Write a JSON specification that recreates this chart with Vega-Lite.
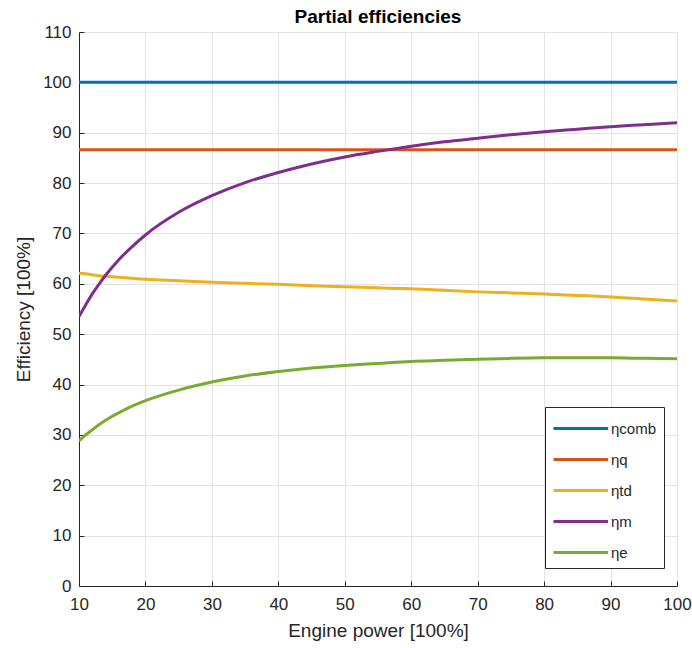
{
  "$schema": "https://vega.github.io/schema/vega-lite/v6.json",
  "width": 598,
  "height": 554,
  "autosize": {"type": "none"},
  "padding": {"left": 79, "top": 32, "right": 15, "bottom": 62},
  "background": "white",
  "title": {
    "text": "Partial efficiencies",
    "font": "Liberation Sans",
    "fontSize": 19,
    "fontWeight": "bold",
    "color": "#000000",
    "anchor": "middle",
    "offset": -4
  },
  "config": {
    "view": {"stroke": null},
    "font": "Liberation Sans"
  },
  "data": {
    "values": [
      {"power": 10, "series": "ηcomb", "eff": 100},
      {"power": 100, "series": "ηcomb", "eff": 100},

      {"power": 10, "series": "ηq", "eff": 86.6},
      {"power": 100, "series": "ηq", "eff": 86.6},

      {"power": 10, "series": "ηtd", "eff": 62.1},
      {"power": 11, "series": "ηtd", "eff": 62.0},
      {"power": 12, "series": "ηtd", "eff": 61.8},
      {"power": 13, "series": "ηtd", "eff": 61.6},
      {"power": 14, "series": "ηtd", "eff": 61.5},
      {"power": 15, "series": "ηtd", "eff": 61.4},
      {"power": 16, "series": "ηtd", "eff": 61.3},
      {"power": 18, "series": "ηtd", "eff": 61.1},
      {"power": 20, "series": "ηtd", "eff": 60.9},
      {"power": 25, "series": "ηtd", "eff": 60.6},
      {"power": 30, "series": "ηtd", "eff": 60.3},
      {"power": 35, "series": "ηtd", "eff": 60.1},
      {"power": 40, "series": "ηtd", "eff": 59.9},
      {"power": 45, "series": "ηtd", "eff": 59.6},
      {"power": 50, "series": "ηtd", "eff": 59.4},
      {"power": 55, "series": "ηtd", "eff": 59.2},
      {"power": 60, "series": "ηtd", "eff": 59.0},
      {"power": 65, "series": "ηtd", "eff": 58.7},
      {"power": 70, "series": "ηtd", "eff": 58.4},
      {"power": 75, "series": "ηtd", "eff": 58.2},
      {"power": 80, "series": "ηtd", "eff": 58.0},
      {"power": 85, "series": "ηtd", "eff": 57.7},
      {"power": 90, "series": "ηtd", "eff": 57.4},
      {"power": 95, "series": "ηtd", "eff": 57.0},
      {"power": 100, "series": "ηtd", "eff": 56.6},

      {"power": 10, "series": "ηm", "eff": 53.5},
      {"power": 11, "series": "ηm", "eff": 55.8},
      {"power": 12, "series": "ηm", "eff": 58.0},
      {"power": 13, "series": "ηm", "eff": 59.9},
      {"power": 14, "series": "ηm", "eff": 61.7},
      {"power": 15, "series": "ηm", "eff": 63.3},
      {"power": 16, "series": "ηm", "eff": 64.8},
      {"power": 18, "series": "ηm", "eff": 67.4},
      {"power": 20, "series": "ηm", "eff": 69.7},
      {"power": 25, "series": "ηm", "eff": 74.2},
      {"power": 30, "series": "ηm", "eff": 77.5},
      {"power": 35, "series": "ηm", "eff": 80.1},
      {"power": 40, "series": "ηm", "eff": 82.1},
      {"power": 45, "series": "ηm", "eff": 83.8},
      {"power": 50, "series": "ηm", "eff": 85.2},
      {"power": 55, "series": "ηm", "eff": 86.3},
      {"power": 60, "series": "ηm", "eff": 87.3},
      {"power": 65, "series": "ηm", "eff": 88.2},
      {"power": 70, "series": "ηm", "eff": 88.9},
      {"power": 75, "series": "ηm", "eff": 89.6},
      {"power": 80, "series": "ηm", "eff": 90.2},
      {"power": 85, "series": "ηm", "eff": 90.7},
      {"power": 90, "series": "ηm", "eff": 91.2},
      {"power": 95, "series": "ηm", "eff": 91.6},
      {"power": 100, "series": "ηm", "eff": 92.0},

      {"power": 10, "series": "ηe", "eff": 28.8},
      {"power": 11, "series": "ηe", "eff": 30.0},
      {"power": 12, "series": "ηe", "eff": 31.0},
      {"power": 13, "series": "ηe", "eff": 32.0},
      {"power": 14, "series": "ηe", "eff": 32.9},
      {"power": 15, "series": "ηe", "eff": 33.7},
      {"power": 16, "series": "ηe", "eff": 34.4},
      {"power": 18, "series": "ηe", "eff": 35.7},
      {"power": 20, "series": "ηe", "eff": 36.8},
      {"power": 25, "series": "ηe", "eff": 38.9},
      {"power": 30, "series": "ηe", "eff": 40.5},
      {"power": 35, "series": "ηe", "eff": 41.7},
      {"power": 40, "series": "ηe", "eff": 42.6},
      {"power": 45, "series": "ηe", "eff": 43.3},
      {"power": 50, "series": "ηe", "eff": 43.8},
      {"power": 55, "series": "ηe", "eff": 44.2},
      {"power": 60, "series": "ηe", "eff": 44.6},
      {"power": 65, "series": "ηe", "eff": 44.8},
      {"power": 70, "series": "ηe", "eff": 45.0},
      {"power": 75, "series": "ηe", "eff": 45.2},
      {"power": 80, "series": "ηe", "eff": 45.3},
      {"power": 85, "series": "ηe", "eff": 45.3},
      {"power": 90, "series": "ηe", "eff": 45.3},
      {"power": 95, "series": "ηe", "eff": 45.2},
      {"power": 100, "series": "ηe", "eff": 45.1}
    ]
  },
  "mark": {"type": "line", "strokeWidth": 3, "interpolate": "monotone", "clip": true},
  "encoding": {
    "x": {
      "field": "power",
      "type": "quantitative",
      "scale": {"domain": [10, 100], "nice": false, "zero": false},
      "axis": {
        "title": "Engine power [100%]",
        "values": [10, 20, 30, 40, 50, 60, 70, 80, 90, 100],
        "tickSize": -5,
        "tickColor": "#262626",
        "tickWidth": 1,
        "domainColor": "#262626",
        "domainWidth": 1,
        "grid": true,
        "gridColor": "#e3e3e3",
        "gridWidth": 1,
        "labelFont": "Liberation Sans",
        "labelFontSize": 17,
        "labelColor": "#262626",
        "labelPadding": 15,
        "labelFlush": false,
        "titleFont": "Liberation Sans",
        "titleFontSize": 19,
        "titleFontWeight": "normal",
        "titleColor": "#262626",
        "titlePadding": 9
      }
    },
    "y": {
      "field": "eff",
      "type": "quantitative",
      "scale": {"domain": [0, 110], "nice": false},
      "axis": {
        "title": "Efficiency [100%]",
        "values": [0, 10, 20, 30, 40, 50, 60, 70, 80, 90, 100, 110],
        "tickSize": -5,
        "tickColor": "#262626",
        "tickWidth": 1,
        "domainColor": "#262626",
        "domainWidth": 1,
        "grid": true,
        "gridColor": "#e3e3e3",
        "gridWidth": 1,
        "labelFont": "Liberation Sans",
        "labelFontSize": 17,
        "labelColor": "#262626",
        "labelPadding": 13,
        "labelFlush": false,
        "titleFont": "Liberation Sans",
        "titleFontSize": 19,
        "titleFontWeight": "normal",
        "titleColor": "#262626",
        "titlePadding": 9
      }
    },
    "color": {
      "field": "series",
      "type": "nominal",
      "scale": {
        "domain": ["ηcomb", "ηq", "ηtd", "ηm", "ηe"],
        "range": ["#0072BD", "#D95319", "#EDB120", "#7E2F8E", "#77AC30"]
      },
      "legend": {
        "title": null,
        "orient": "none",
        "legendX": 466,
        "legendY": 375,
        "fillColor": "white",
        "strokeColor": "#262626",
        "padding": 7,
        "symbolType": "M -1 0 H 3.2",
        "symbolSize": 676,
        "symbolStrokeWidth": 3,
        "labelOffset": 30,
        "labelFont": "Liberation Sans",
        "labelFontSize": 15,
        "labelColor": "#262626",
        "rowPadding": 8
      }
    }
  }
}
